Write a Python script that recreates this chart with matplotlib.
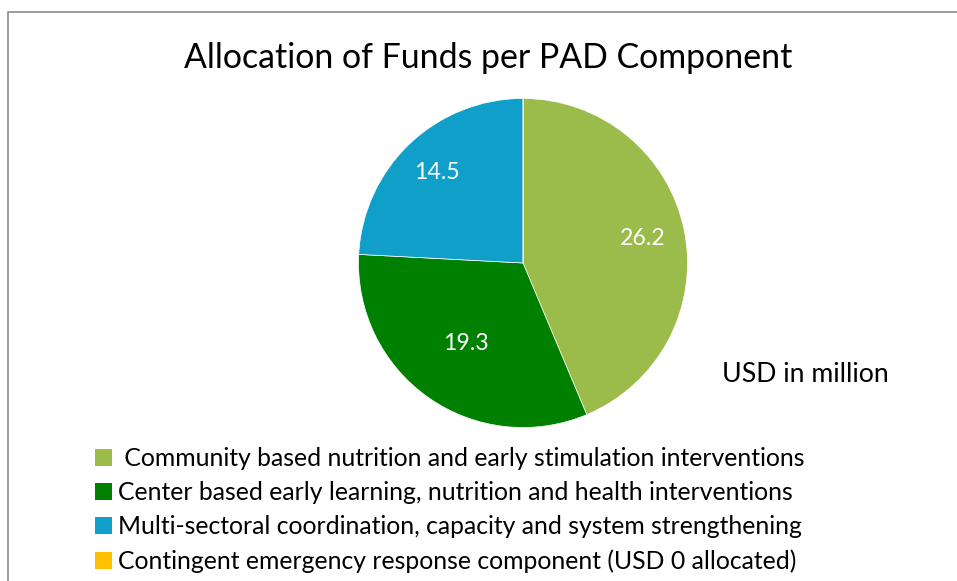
import matplotlib.pyplot as plt
from matplotlib.patches import Patch, Rectangle
import numpy as np

# chart data
components = [
    ' Community based nutrition and early stimulation interventions',
    'Center based early learning, nutrition and health interventions',
    'Multi-sectoral coordination, capacity and system strengthening',
    'Contingent emergency response component (USD 0 allocated)',
]
funds = [26.2, 19.3, 14.5, 0.0]
colors = ['#9BBB4B', '#008000', '#109FC9', '#FFC000']
label_radius = [0.74, 0.60, 0.76, 0.7]

plt.rcParams['font.family'] = ['Lato', 'DejaVu Sans']

fig = plt.figure(figsize=(9.57, 5.81), dpi=100)

# chart frame (runs off the right and bottom of the picture)
fig.patches.append(Rectangle((8 / 957, -0.1), 1.2, (581 - 12) / 581 + 0.1,
                             transform=fig.transFigure, fill=False,
                             edgecolor='#8c8c8c', linewidth=1.2))

ax = fig.add_axes([358.5 / 957, (581 - 263 - 164.5) / 581, 329 / 957, 329 / 581])
wedges, _ = ax.pie(funds, colors=colors, startangle=90, counterclock=False,
                   radius=1, wedgeprops=dict(edgecolor='white', linewidth=0.5))
ax.set_xlim(-1, 1)
ax.set_ylim(-1, 1)
ax.set_aspect('equal')
ax.axis('off')

# value labels inside the slices
for w, v, r in zip(wedges, funds, label_radius):
    if v == 0:
        continue
    ang = np.deg2rad((w.theta1 + w.theta2) / 2)
    ax.text(r * np.cos(ang), r * np.sin(ang), f'{v:.1f}', color='white',
            fontsize=16.7, ha='center', va='center')

fig.text(488 / 957, 1 - 58 / 581, 'Allocation of Funds per PAD Component',
         fontsize=24.4, ha='center', va='center')
fig.text(805 / 957, 1 - 374 / 581, 'USD in million', fontsize=19.2,
         ha='center', va='center')

handles = [Patch(facecolor=c, edgecolor='none') for c in colors]
fig.legend(handles, components, loc='upper left',
           bbox_to_anchor=(95 / 957, 1 - 447 / 581), frameon=False,
           fontsize=17.8, handlelength=0.7, handleheight=0.7,
           handletextpad=0.22, labelspacing=0.45, borderpad=0, borderaxespad=0)

fig.savefig('out.png', dpi=100)
